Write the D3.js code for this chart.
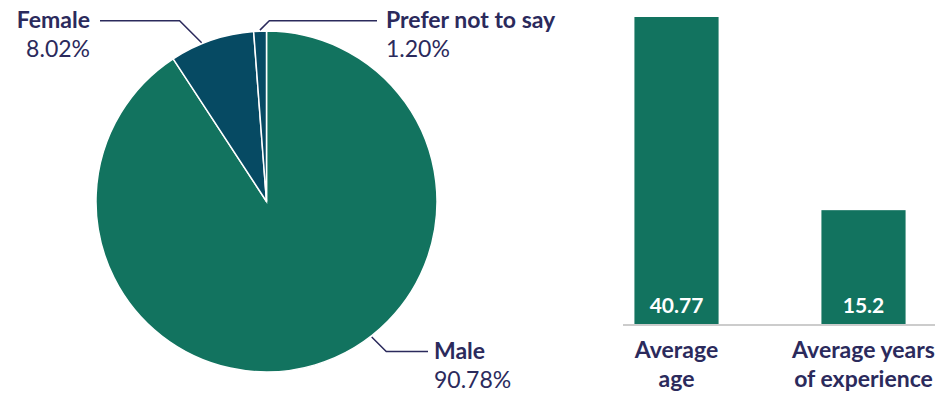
<!DOCTYPE html>
<html>
<head>
<meta charset="utf-8">
<script src="https://cdn.jsdelivr.net/npm/d3@7"></script>
<style>
  html, body { margin: 0; padding: 0; background: #fff; }
  svg { display: block; font-family: Lato, "Noto Sans", sans-serif; }
</style>
</head>
<body>
<div id="chart"></div>
<script>
// pie data
const genders = ['Male', 'Female', 'Prefer not to say'];
const genderShares = [90.78, 8.02, 1.2];
const genderColors = ['#12735f', '#064a63', '#064a63'];

// bar data
const barCategories = [['Average', 'age'], ['Average years', 'of experience']];
const barValues = [40.77, 15.2];

const WIDTH = 935;
const HEIGHT = 393;
const TEXT = '#2b2a5c';
const LABEL_SIZE = 23;

const svg = d3.select('#chart')
  .append('svg')
  .attr('width', WIDTH)
  .attr('height', HEIGHT);

// ---- pie ----
const CX = 266.5;
const CY = 201.5;
const RADIUS = 170.5;

const pie = d3.pie().sort(null).value((d) => d.value);
const arcs = pie(genders.map((g, i) => ({ name: g, value: genderShares[i], color: genderColors[i] })));

const arc = d3.arc().innerRadius(0).outerRadius(RADIUS);

const pieG = svg.append('g').attr('transform', `translate(${CX},${CY})`);
pieG.selectAll('path')
  .data(arcs)
  .enter()
  .append('path')
  .attr('d', arc)
  .attr('fill', (d) => d.data.color)
  .attr('stroke', '#fff')
  .attr('stroke-width', 1.5);

// label layout: where the leader touches the slice (fraction of the slice), label row y, label x
const labelLayout = {
  Male: { at: 0.435, y: 351.5, x: 434, anchor: 'start', endX: 428 },
  Female: { at: 0.38, y: 20.7, x: 90, anchor: 'end', endX: 100 },
  'Prefer not to say': { at: 0.49, y: 20.7, x: 386, anchor: 'start', endX: 377 },
};

arcs.forEach((d) => {
  const lay = labelLayout[d.data.name];
  const a = d.startAngle + (d.endAngle - d.startAngle) * lay.at;
  const r = RADIUS + 1;
  const px = CX + Math.sin(a) * r;
  const py = CY - Math.cos(a) * r;
  const dy = lay.y - py;
  const dir = lay.endX > px ? 1 : -1;
  const ex = px + dir * Math.abs(dy);
  svg.append('path')
    .attr('d', `M${px},${py}L${ex},${lay.y}L${lay.endX},${lay.y}`)
    .attr('fill', 'none')
    .attr('stroke', TEXT)
    .attr('stroke-width', 1.5);

  svg.append('text')
    .attr('x', lay.x)
    .attr('y', lay.y + 7)
    .attr('text-anchor', lay.anchor)
    .attr('font-size', LABEL_SIZE)
    .attr('font-weight', 'bold')
    .attr('fill', TEXT)
    .text(d.data.name);

  svg.append('text')
    .attr('x', lay.x)
    .attr('y', lay.y + 36.5)
    .attr('text-anchor', lay.anchor)
    .attr('font-size', LABEL_SIZE)
    .attr('fill', TEXT)
    .text(d.data.value.toFixed(2) + '%');
});

// ---- bars ----
const BASE = 325;
const x = d3.scaleBand()
  .domain(barCategories.map((c) => c.join(' ')))
  .range([583, 957])
  .paddingInner(0.55)
  .paddingOuter(0.275);

const y = d3.scaleLinear()
  .domain([0, d3.max(barValues)])
  .range([BASE, 17]);

const barG = svg.append('g');
barG.selectAll('rect')
  .data(barValues)
  .enter()
  .append('rect')
  .attr('x', (d, i) => x(barCategories[i].join(' ')))
  .attr('y', (d) => y(d))
  .attr('width', x.bandwidth())
  .attr('height', (d) => BASE - y(d))
  .attr('fill', '#12735f');

barG.selectAll('text.value')
  .data(barValues)
  .enter()
  .append('text')
  .attr('class', 'value')
  .attr('x', (d, i) => x(barCategories[i].join(' ')) + x.bandwidth() / 2)
  .attr('y', BASE - 12.5)
  .attr('text-anchor', 'middle')
  .attr('font-size', 21)
  .attr('font-weight', 'bold')
  .attr('fill', '#fff')
  .text((d) => d);

svg.append('line')
  .attr('x1', 623)
  .attr('x2', WIDTH)
  .attr('y1', BASE)
  .attr('y2', BASE)
  .attr('stroke', '#cccccc')
  .attr('stroke-width', 2);

barCategories.forEach((lines, i) => {
  const cx = x(lines.join(' ')) + x.bandwidth() / 2;
  const t = svg.append('text')
    .attr('text-anchor', 'middle')
    .attr('font-size', LABEL_SIZE)
    .attr('font-weight', 'bold')
    .attr('fill', TEXT);
  lines.forEach((line, j) => {
    t.append('tspan')
      .attr('x', cx)
      .attr('y', 358 + j * 29)
      .text(line);
  });
});
</script>
</body>
</html>
